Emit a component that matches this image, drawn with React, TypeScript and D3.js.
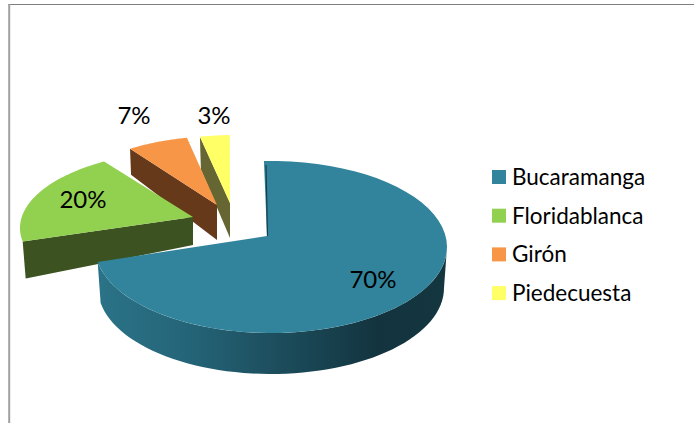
import React from "react";
import * as d3 from "d3";

const categories = ["Bucaramanga", "Floridablanca", "Girón", "Piedecuesta"];
const shares = [70, 20, 7, 3];
const labels = ["70%", "20%", "7%", "3%"];
const topColors = ["#31849b", "#92d050", "#f79646", "#ffff66"];
const sideColors = ["url(#rim)", "#3c5220", "#66391a", "#666633"];

// Where each exploded slice sits: apex of wedge, ellipse of its rim, extrusion.
const apexes = [[267, 236], [193, 217], [217, 205], [230, 203]];
const rimCentres = [[271, 247], [196, 228], [222, 222], [235, 221]];
const rimRy = [86, 78, 86, 86];
const depths = [[37, 41], [28, 37], [35, 26], [35, 33]];
const labelPos = [[373, 288], [83, 208], [134, 124], [214, 124]];
const RX = 176;

// Perspective turns equal pie angles into unequal rim angles.
const pieLayout = d3.pie<number>().sort(null).value((d) => d);
const arcs = pieLayout(shares);
const toRim = d3
  .scaleLinear()
  .domain([0, arcs[0].endAngle, arcs[1].endAngle, arcs[2].endAngle, arcs[3].endAngle])
  .range([-2.3, 260, 328.5, 348.5, 358.3].map((d) => (d * Math.PI) / 180));

const rimPoint = (c: number[], t: number, ry: number, rx = RX, dy = 0): [number, number] => [
  c[0] + rx * Math.sin(t),
  c[1] + dy - ry * Math.cos(t),
];

const rimLine = (c: number[], t0: number, t1: number, ry: number, rx = RX, dy = 0) =>
  d3.range(0, 61).map((i) => rimPoint(c, t0 + ((t1 - t0) * i) / 60, ry, rx, dy));

const line = d3.line();

export default function App() {
  const t0s = arcs.map((a) => toRim(a.startAngle));
  const t1s = arcs.map((a) => toRim(a.endAngle));

  const top = (i: number) =>
    line([apexes[i] as [number, number], ...rimLine(rimCentres[i], t0s[i], t1s[i], rimRy[i])])! + "Z";

  // radial cut face seen on the exploded wedges: rim end to apex, extruded
  const cut = (i: number, inset: number) => {
    const a = apexes[i];
    const p = rimPoint(rimCentres[i], t0s[i], rimRy[i]);
    const [dApex, dRim] = depths[i];
    return (
      line([
        p,
        a as [number, number],
        [a[0], a[1] + dApex],
        [p[0] + inset, p[1] + dRim],
      ])! + "Z"
    );
  };

  const mainRim = () => {
    const c = rimCentres[0];
    const t0 = Math.PI / 2;
    const t1 = t1s[0];
    const upper = rimLine(c, t0, t1, rimRy[0]);
    const lower = rimLine(c, t1, t0, rimRy[0], RX - 3, depths[0][1]);
    return line([...upper, ...lower])! + "Z";
  };

  return (
    <svg
      width={694}
      height={423}
      style={{ position: "absolute", left: 0, top: 0, background: "#fff" }}
      fontFamily="Lato, sans-serif"
    >
      <defs>
        <linearGradient id="rim" gradientUnits="userSpaceOnUse" x1={97} x2={447} y1={0} y2={0}>
          <stop offset="0" stopColor="#2b7388" />
          <stop offset="0.25" stopColor="#256579" />
          <stop offset="0.5" stopColor="#1d4f5f" />
          <stop offset="0.8" stopColor="#13343f" />
          <stop offset="1" stopColor="#14363f" />
        </linearGradient>
      </defs>

      <line x1={8} x2={694} y1={4.5} y2={4.5} stroke="#7f7f7f" strokeWidth={1.2} />
      <line x1={9.2} x2={9.2} y1={4} y2={423} stroke="#a0a0a0" strokeWidth={2} />

      <path d={cut(3, 1)} fill={sideColors[3]} />
      <path d={top(3)} fill={topColors[3]} />
      <path d={cut(2, 1)} fill={sideColors[2]} />
      <path d={top(2)} fill={topColors[2]} />
      <path d={cut(1, 3)} fill={sideColors[1]} />
      <path d={top(1)} fill={topColors[1]} />
      <path d={mainRim()} fill={sideColors[0]} />
      <path d={top(0)} fill={topColors[0]} />
      <line x1={266} y1={165} x2={267.5} y2={236} stroke="#17404d" strokeWidth={1.2} />

      {labels.map((l, i) => (
        <text key={l} x={labelPos[i][0]} y={labelPos[i][1]} fontSize={24} textAnchor="middle" fill="#000">
          {l}
        </text>
      ))}

      {categories.map((c, i) => (
        <g key={c} transform={`translate(492,${170 + i * 38.7})`}>
          <rect width={14} height={14} fill={topColors[i]} />
          <text x={20} y={15} fontSize={22.5} fill="#000">
            {c}
          </text>
        </g>
      ))}
    </svg>
  );
}
